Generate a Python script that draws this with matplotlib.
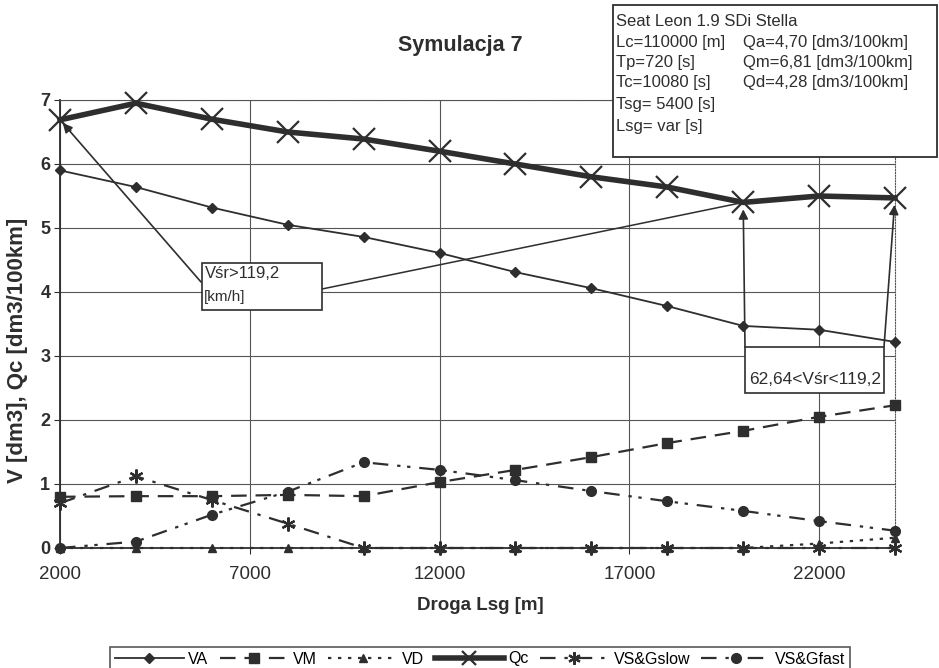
import matplotlib
matplotlib.use('Agg')
import matplotlib.pyplot as plt
from matplotlib.patches import Rectangle

plt.rcParams['font.family'] = ['Liberation Sans', 'DejaVu Sans']

# ---- data ----
x = [2000, 4000, 6000, 8000, 10000, 12000, 14000, 16000, 18000, 20000, 22000, 24000]
VA = [5.90, 5.64, 5.32, 5.05, 4.86, 4.61, 4.31, 4.06, 3.78, 3.47, 3.41, 3.22]
VM = [0.80, 0.81, 0.81, 0.83, 0.81, 1.03, 1.22, 1.42, 1.64, 1.83, 2.05, 2.23]
VD = [0.0, 0.0, 0.0, 0.0, 0.0, 0.0, 0.0, 0.0, 0.0, 0.0, 0.07, 0.16]
Qc = [6.69, 6.95, 6.70, 6.50, 6.39, 6.20, 6.00, 5.80, 5.64, 5.40, 5.50, 5.47]
VSslow = [0.70, 1.12, 0.75, 0.38, 0.0, 0.0, 0.0, 0.0, 0.0, 0.0, 0.0, 0.0]
VSfast = [0.0, 0.10, 0.52, 0.88, 1.34, 1.22, 1.06, 0.89, 0.73, 0.58, 0.42, 0.27]
xticks = [2000, 7000, 12000, 17000, 22000]
yticks = [0, 1, 2, 3, 4, 5, 6, 7]

info_left = ['Seat Leon 1.9 SDi Stella', 'Lc=110000 [m]', 'Tp=720 [s]',
             'Tc=10080 [s]', 'Tsg= 5400 [s]', 'Lsg= var [s]']
info_right = ['', 'Qa=4,70 [dm3/100km]', 'Qm=6,81 [dm3/100km]', 'Qd=4,28 [dm3/100km]', '', '']

c = '#2e2e2e'
W, H = 939, 668
fig = plt.figure(figsize=(W / 100, H / 100), dpi=100)
L, R, T, B = 60, 895, 100, 548
ax = fig.add_axes([L / W, 1 - B / H, (R - L) / W, (B - T) / H])

ax.plot(x, VA, color=c, lw=1.3, marker='D', ms=5, label='VA', zorder=5, clip_on=False)
ax.plot(x, VM, color=c, lw=1.6, ls=(0, (7, 4)), marker='s', ms=7, label='VM', zorder=5, clip_on=False)
ax.plot(x, VD, color=c, lw=1.6, ls=(0, (1.5, 3)), marker='^', ms=6, label='VD', zorder=5, clip_on=False)
ax.plot(x, Qc, color=c, lw=4, marker='x', ms=16, mew=1.6, label='Qc', zorder=6, clip_on=False)
ax.plot(x, VSslow, color=c, lw=1.6, ls=(0, (7, 4, 1.5, 4)), marker=(6, 2, 0), ms=10, mew=1.6,
        label='VS&Gslow', zorder=5, clip_on=False)
ax.plot(x, VSfast, color=c, lw=1.6, ls=(0, (7, 4, 1.5, 3, 1.5, 4)), marker='o', ms=7,
        label='VS&Gfast', zorder=5, clip_on=False)

ax.set_xlim(2000, 24000)
ax.set_ylim(0, 7)
ax.set_xticks(xticks)
ax.set_yticks(yticks)
ax.grid(True, color='#555555', lw=0.8)
ax.set_axisbelow(True)
for s in ['top', 'right']:
    ax.spines[s].set_linestyle((0, (1, 1.5)))
    ax.spines[s].set_color('#555555')
ax.spines['left'].set_color(c)
ax.spines['bottom'].set_color(c)
ax.spines['left'].set_linewidth(1.3)
ax.spines['bottom'].set_linewidth(1.3)
ax.tick_params(axis='x', labelsize=13.5, length=4, pad=9, colors=c)
ax.tick_params(axis='y', labelsize=13, length=4, pad=3, colors=c)
for lab in ax.get_yticklabels():
    lab.set_fontweight('bold')

# titles and labels
fig.text(460 / W, 1 - 45 / H, 'Symulacja 7', ha='center', va='center',
         fontsize=15.5, fontweight='bold', color=c)
fig.text(480 / W, 1 - 606 / H, 'Droga Lsg [m]', ha='center', va='center',
         fontsize=13.5, fontweight='bold', color=c)
fig.text(18 / W, 1 - 350 / H, 'V [dm3], Qc [dm3/100km]', ha='center', va='center',
         rotation=90, fontsize=16, fontweight='bold', color=c)

# annotation 1
def axfrac(px, py):
    return ((px - L) / (R - L), (B - py) / (B - T))

ax.add_patch(Rectangle(axfrac(202, 310), (322 - 202) / (R - L), (310 - 263) / (B - T),
                       transform=ax.transAxes, fc='white', ec=c, lw=1.2, zorder=8, clip_on=False))
ax.text(*axfrac(205, 274), 'Vśr>119,2', transform=ax.transAxes, fontsize=12,
        ha='left', va='center', color=c, zorder=9)
ax.text(*axfrac(204, 297), '[km/h]', transform=ax.transAxes, fontsize=11,
        ha='left', va='center', color=c, zorder=9)
ap = dict(arrowstyle='-|>', color=c, lw=1.2, shrinkA=0, shrinkB=3, mutation_scale=14)
ax.annotate('', xy=(x[0], Qc[0]), xytext=axfrac(201, 282), textcoords='axes fraction',
            arrowprops=ap, zorder=7)
ax.annotate('', xy=(x[9], Qc[9]), xytext=axfrac(322, 289), textcoords='axes fraction',
            arrowprops=dict(arrowstyle='-', color=c, lw=1.1, shrinkA=0, shrinkB=0), zorder=7)

# annotation 2
ax.add_patch(Rectangle(axfrac(745, 393), (884 - 745) / (R - L), (393 - 347) / (B - T),
                       transform=ax.transAxes, fc='white', ec=c, lw=1.2, zorder=8, clip_on=False))
ax.text(*axfrac(815, 380), '62,64<Vśr<119,2', transform=ax.transAxes, fontsize=12.5,
        ha='center', va='center', color=c, zorder=9)
ax.annotate('', xy=(x[9], Qc[9]), xytext=axfrac(745, 347), textcoords='axes fraction',
            arrowprops=dict(ap, shrinkB=5), zorder=7)
ax.annotate('', xy=(x[11], Qc[11]), xytext=axfrac(884, 347), textcoords='axes fraction',
            arrowprops=dict(ap, shrinkB=5), zorder=7)

# info box
fig.patches.append(Rectangle((613 / W, 1 - 157 / H), (937 - 613) / W, (157 - 5) / H,
                             transform=fig.transFigure, fc='white', ec=c, lw=1.3, zorder=5))
ys = [22, 42, 62, 83, 105, 127]
for yy, tl, tr in zip(ys, info_left, info_right):
    fig.text(616 / W, 1 - yy / H, tl, ha='left', va='center', fontsize=12, color=c, zorder=6)
    if tr:
        fig.text(743 / W, 1 - yy / H, tr, ha='left', va='center', fontsize=12, color=c, zorder=6)

leg = fig.legend(loc='center', bbox_to_anchor=(480 / W, 1 - 659 / H), ncol=6, fontsize=11.5,
                 frameon=True, fancybox=False, edgecolor=c, handlelength=4.3,
                 columnspacing=0.7, handletextpad=0.3, borderpad=0.3, borderaxespad=0)
leg.get_frame().set_linewidth(1.2)
handles = leg.legend_handles
handles[3].set_markersize(10)
handles[4].set_markersize(9)

fig.savefig('out.png', dpi=100)
